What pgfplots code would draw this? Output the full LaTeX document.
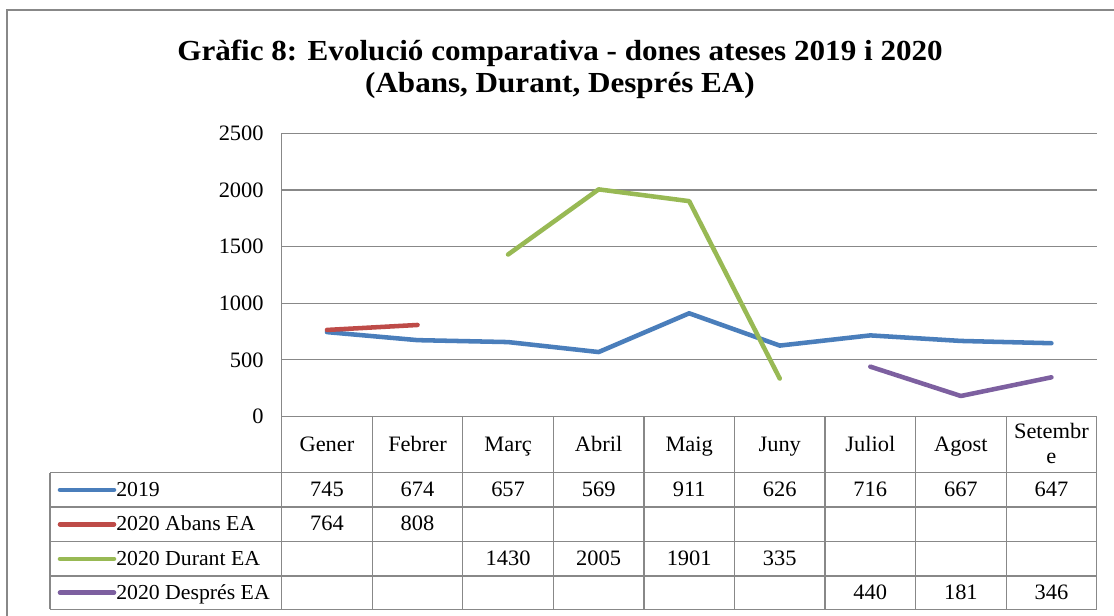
\documentclass[border=0pt]{standalone}
\usepackage{pgfplots}
\pgfplotsset{compat=1.18}
\usepackage{fontspec}
\setmainfont{Liberation Serif}[FakeStretch=1.02]
\newfontfamily\titlefont{Liberation Serif}[FakeStretch=1.07]
\definecolor{c19}{HTML}{4A7EBB}
\definecolor{cab}{HTML}{BE4B48}
\definecolor{cdu}{HTML}{98B954}
\definecolor{cde}{HTML}{7D60A0}
\definecolor{gridc}{HTML}{888888}
\newcommand\fs{\fontsize{16.5}{19}\selectfont}
\newcommand\fl{\fontsize{16}{19}\selectfont}
\begin{document}
\begin{tikzpicture}
\begin{scope}[x=0.75pt,y=-0.75pt]
\path[use as bounding box] (0,0) rectangle (1114,616);
\fill[white] (0,0) rectangle (1114,616);
\draw[gridc, line width=1.3pt] (7,616) -- (7,10) -- (1114,10);
\node[font=\titlefont\bfseries\fontsize{21.8}{26}\selectfont, anchor=base] at (560,61) {Gràfic 8: Evolució comparativa - dones ateses 2019 i 2020};
\node[font=\titlefont\bfseries\fontsize{21.8}{26}\selectfont, anchor=base] at (560,93) {(Abans, Durant, Després EA)};
\end{scope}
\begin{axis}[
  at={(211.275pt,-312.375pt)}, anchor=south west,
  scale only axis, width=611.25pt, height=212.4pt,
  xmin=-0.5, xmax=8.5, ymin=0, ymax=2500,
  xtick=\empty,
  ytick={0,500,1000,1500,2000,2500},
  ymajorgrids, grid style={gridc, line width=0.9pt},
  major tick length=0pt,
  axis line style={draw=none},
  yticklabel style={font=\fs, xshift=-10pt},
  /pgf/number format/assume math mode=true,
  /pgf/number format/1000 sep={},
  every axis plot/.append style={line width=3.4pt, line cap=round, line join=round},
]
\addplot[c19] coordinates {(0,745)(1,674)(2,657)(3,569)(4,911)(5,626)(6,716)(7,667)(8,647)};
\addplot[cab] coordinates {(0,764)(1,808)};
\addplot[cdu] coordinates {(2,1430)(3,2005)(4,1901)(5,335)};
\addplot[cde] coordinates {(6,440)(7,181)(8,346)};
\end{axis}
\begin{scope}[x=0.75pt,y=-0.75pt]
\def\cw{90.556}
\draw[gridc, line width=0.9pt] (281.7,133.3) -- (281.7,609.3);
\foreach \k in {1,...,9}{\draw[gridc, line width=0.9pt] ({281.7+\cw*\k},416.5) -- ({281.7+\cw*\k},609.3);}
\foreach \yy in {472.7,507,541.7,576,609.3}{\draw[gridc, line width=0.9pt] (50,\yy) -- (1096.7,\yy);}
\draw[gridc, line width=0.9pt] (50,472.7) -- (50,609.3);
% header
\foreach \n [count=\i from 0] in {Gener,Febrer,Març,Abril,Maig,Juny,Juliol,Agost}{
  \node[font=\fs, anchor=base] at ({281.7+\cw*(\i+0.5)},451) {\n};}
\node[font=\fs, anchor=base] at ({281.7+\cw*8.5},439) {Setembr};
\node[font=\fs, anchor=base] at ({281.7+\cw*8.5},464) {e};
% legend column
\foreach \c/\t/\yc in {c19/2019/489.9, cab/2020 Abans EA/524.3, cdu/2020 Durant EA/558.9, cde/2020 Després EA/592.7}{
  \draw[\c, line width=3.4pt, line cap=round] (60,\yc) -- (114,\yc);
  \node[font=\fl, anchor=base west, inner sep=0pt] at (116,{\yc+6.5}) {\t};}
% values
\foreach \v [count=\i from 0] in {745,674,657,569,911,626,716,667,647}{
  \node[font=\fs, anchor=base] at ({281.7+\cw*(\i+0.5)},496.4) {\v};}
\foreach \v [count=\i from 0] in {764,808}{
  \node[font=\fs, anchor=base] at ({281.7+\cw*(\i+0.5)},530.8) {\v};}
\foreach \v [count=\i from 2] in {1430,2005,1901,335}{
  \node[font=\fs, anchor=base] at ({281.7+\cw*(\i+0.5)},565.4) {\v};}
\foreach \v [count=\i from 6] in {440,181,346}{
  \node[font=\fs, anchor=base] at ({281.7+\cw*(\i+0.5)},599.2) {\v};}
\end{scope}
\end{tikzpicture}
\end{document}
